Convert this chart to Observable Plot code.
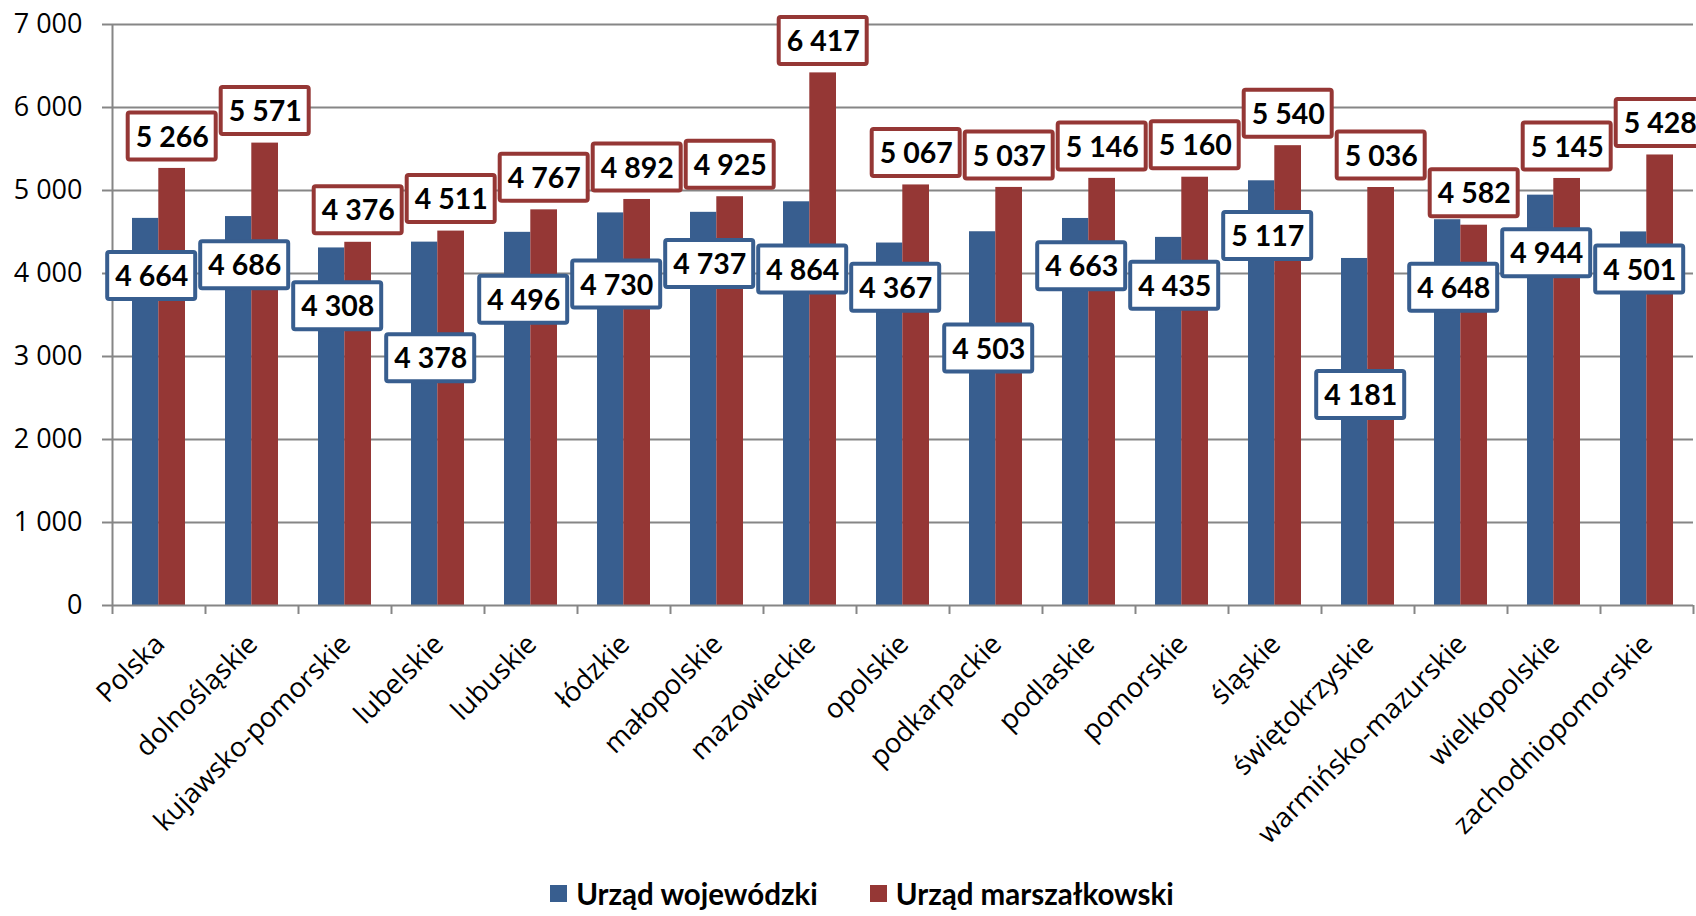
<!DOCTYPE html>
<html><head><meta charset="utf-8">
<script src="https://cdn.jsdelivr.net/npm/d3@7"></script>
<script src="https://cdn.jsdelivr.net/npm/@observablehq/plot@0.6"></script>
<style>
html,body{margin:0;padding:0;background:#fff;}
#legend{display:flex;justify-content:center;align-items:center;height:46px;padding-left:28px;font-family:Lato,sans-serif;font-weight:bold;font-size:29.5px;color:#000;}
.item{display:flex;align-items:center;margin:0 26px;}
.sw{width:17px;height:17px;margin-right:9px;}
</style></head><body><div id="chart"></div><div id="legend"></div>
<script>
const categories = ["Polska","dolnośląskie","kujawsko-pomorskie","lubelskie","lubuskie","łódzkie","małopolskie","mazowieckie","opolskie","podkarpackie","podlaskie","pomorskie","śląskie","świętokrzyskie","warmińsko-mazurskie","wielkopolskie","zachodniopomorskie"];
const seriesNames = ["Urząd wojewódzki","Urząd marszałkowski"];
const wojewodzki = [4664,4686,4308,4378,4496,4730,4737,4864,4367,4503,4663,4435,5117,4181,4648,4944,4501];
const marszalkowski = [5266,5571,4376,4511,4767,4892,4925,6417,5067,5037,5146,5160,5540,5036,4582,5145,5428];
const wojewodzkiLabelAt = [3970,4100,3605,2979,3683,3866,4113,4048,3827,3096,4087,3853,4452,2536,3827,4244,4048];
const yTicks = [0,1000,2000,3000,4000,5000,6000,7000];

const BLUE = "#385E8F", RED = "#953735", GRAY = "#868686";
const W = 1696, H = 870, mL = 112, mR = 3, mT = 24, mB = 265;
const bw = (W - mL - mR) / categories.length;
const k = 7000 / (H - mT - mB);
const fmt = v => d3.format(",")(v).replace(/,/g, " ");

const rows = categories.map((c, i) => ({cat: c, woj: wojewodzki[i], mar: marszalkowski[i], wojAt: wojewodzkiLabelAt[i], marAt: marszalkowski[i] + 32 * k}));

const boxH = 23.5 * k;
const labelMarks = (d, key, at, color, dx) => [
  Plot.rect([d], {x: "cat", y1: r => r[at] - boxH, y2: r => r[at] + boxH, fill: "white", stroke: color, strokeWidth: 4, insetLeft: (bw - 88) / 2, insetRight: (bw - 88) / 2, dx, rx: 2}),
  Plot.text([d], {x: "cat", y: at, text: r => fmt(r[key]), dx, dy: 1, fontFamily: "Lato", fontWeight: "bold", fontSize: 28.5, fill: "black", lineAnchor: "middle"})
];

const marks = [
  Plot.ruleY(yTicks.filter(t => t > 0), {stroke: GRAY, strokeWidth: 2}),
  Plot.barY(rows, {x: "cat", y: "woj", fill: BLUE, insetLeft: 20, insetRight: bw - 46.3}),
  Plot.barY(rows, {x: "cat", y: "mar", fill: RED, insetLeft: 46.3, insetRight: 20}),
  Plot.ruleY([0], {stroke: GRAY, strokeWidth: 2}),
  Plot.ruleX(categories.slice(0, 1), {x: d => d, y1: 0, y2: 7000, dx: -bw / 2, stroke: GRAY, strokeWidth: 2}),
  Plot.axisX({tickSize: 9, fill: "none", stroke: GRAY, strokeWidth: 2, dx: -bw / 2, label: null}),
  Plot.axisX(categories.slice(-1), {tickSize: 9, fill: "none", stroke: GRAY, strokeWidth: 2, dx: bw / 2, label: null}),
  Plot.axisX({tickSize: 0, tickPadding: 34, tickRotate: -45, dx: 1, fontSize: 27.5, fill: "black", label: null}),
  Plot.axisY(yTicks, {tickSize: 10, tickPadding: 20, tickFormat: fmt, stroke: GRAY, strokeWidth: 2, fontSize: 27, fill: "black", label: null})
];
rows.forEach(d => marks.push(...labelMarks(d, "woj", "wojAt", BLUE, -7.3)));
rows.forEach(d => marks.push(...labelMarks(d, "mar", "marAt", RED, 13.2)));

const chart = Plot.plot({
  width: W, height: H,
  marginLeft: mL, marginRight: mR, marginTop: mT, marginBottom: mB,
  style: {fontFamily: "'Open Sans', sans-serif", fontSize: "25px", background: "white", color: "black", overflow: "visible"},
  x: {type: "band", domain: categories, padding: 0, axis: null},
  y: {domain: [0, 7000], axis: null},
  marks
});
document.getElementById("chart").appendChild(chart);

const legend = document.getElementById("legend");
[BLUE, RED].forEach((c, i) => {
  const it = document.createElement("div"); it.className = "item";
  const sw = document.createElement("div"); sw.className = "sw"; sw.style.background = c;
  const t = document.createElement("span"); t.textContent = seriesNames[i];
  it.appendChild(sw); it.appendChild(t); legend.appendChild(it);
});
</script></body></html>
